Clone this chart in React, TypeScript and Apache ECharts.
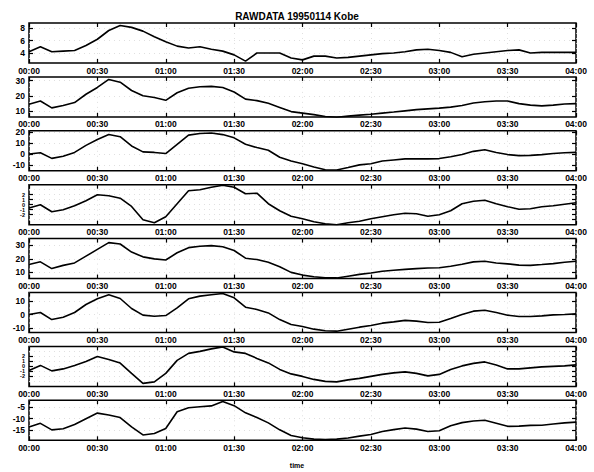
import React, { useEffect, useRef } from "react";
import * as echarts from "echarts";

const minutes = [0, 5, 10, 15, 20, 25, 30, 35, 40, 45, 50, 55, 60, 65, 70, 75, 80, 85, 90, 95, 100, 105, 110, 115, 120, 125, 130, 135, 140, 145, 150, 155, 160, 165, 170, 175, 180, 185, 190, 195, 200, 205, 210, 215, 220, 225, 230, 235, 240];

const ch1 = [4.2, 5.0, 4.2, 4.3, 4.4, 5.2, 6.2, 7.6, 8.4, 8.1, 7.5, 6.6, 5.8, 5.1, 4.8, 5.0, 4.6, 4.3, 3.7, 2.7, 4.0, 4.0, 4.0, 3.2, 2.9, 3.5, 3.5, 3.2, 3.3, 3.5, 3.7, 3.9, 4.0, 4.2, 4.5, 4.6, 4.4, 4.1, 3.4, 3.8, 4.0, 4.2, 4.4, 4.5, 4.0, 4.1, 4.1, 4.1, 4.1];
const ch2 = [14.4, 16.5, 12.0, 13.5, 15.5, 21, 25.5, 30.8, 29, 23.5, 20, 18.8, 17, 22, 25, 26, 26.2, 25.5, 22.5, 17.8, 16.8, 15, 12.3, 9.5, 8.5, 7.5, 6.3, 5.8, 6.5, 7.2, 7.8, 8.5, 9.2, 10, 10.8, 11.3, 11.8, 12.5, 13.5, 15.2, 16, 16.5, 16.5, 14.8, 13.8, 13.3, 13.8, 14.5, 14.8];
const ch3 = [0, 1.2, -4, -2, 1.5, 8, 13.5, 18, 16, 7.5, 2, 1.5, 0.5, 9, 17.5, 19, 19.5, 18, 15, 9, 6, 3.5, -3, -6.5, -9, -12, -14.5, -14.8, -12.5, -10, -9, -6.5, -5.5, -4.5, -4.5, -4.5, -4.2, -2.5, -0.5, 2.5, 4, 1.5, -0.5, -1.5, -1.2, -0.5, 0.5, 1.2, 1.5];
const ch4 = [-0.66, 0, -1.4, -1, -0.2, 0.8, 2, 1.8, 1.3, -0.34, -3, -3.6, -2.4, 0.2, 2.8, 3, 3.5, 3.9, 3.5, 2.2, 2.3, 0.2, -1.2, -2.3, -2.8, -3.4, -3.8, -4, -3.6, -3.3, -2.8, -2.4, -2, -1.7, -1.8, -2.3, -2, -1.2, 0.2, 0.7, 0.9, 0.2, -0.4, -0.9, -0.8, -0.4, -0.2, 0.1, 0.4];
const ch5 = [15.8, 17.8, 12.8, 15.2, 17, 22, 27, 32, 31, 25, 21.5, 20, 19.2, 24.5, 28.3, 29.3, 29.8, 29, 26.2, 20.5, 19.5, 17.5, 14.2, 10, 8, 6.8, 6, 5.9, 7.2, 8.5, 9.6, 10.8, 11.6, 12.2, 12.8, 13.2, 13.4, 14.5, 16, 17.8, 18.2, 17, 16.3, 15.4, 15.2, 15.8, 16.5, 17.5, 18.2];
const ch6 = [0, 1.5, -3.8, -2, 1.5, 7.5, 11.8, 14.8, 12, 4.5, -0.5, -1.3, -0.8, 5, 11.8, 13.8, 14.8, 15.8, 12.5, 5.5, 3.8, 1.2, -3.8, -7.5, -9, -11, -12.2, -12.5, -11, -9.5, -8.3, -6.5, -5.5, -4.4, -5, -6, -5.8, -3, 0, 2.5, 3.2, 1.5, -0.5, -1.5, -1.5, -1, -0.3, 0, 0.5];
const ch7 = [-0.8, 0.2, -0.9, -0.5, 0.2, 1, 2, 1.4, 0.66, -1.4, -3.4, -3.1, -1.4, 1.2, 2.6, 3, 3.5, 3.9, 2.9, 2.6, 1.6, 0.7, -0.6, -1.5, -2, -2.6, -3, -3.1, -2.7, -2.4, -2, -1.6, -1.3, -1.1, -1.4, -1.9, -1.6, -0.6, 0.1, 0.6, 0.9, 0.3, -0.5, -0.5, -0.3, -0.1, 0, 0.1, 0.3];
const ch8 = [-13.6, -12, -14.8, -14.3, -12.5, -10, -7.6, -8.4, -9.5, -13.5, -17, -16.4, -14.2, -7, -5.3, -4.9, -4.5, -2.6, -4.4, -7.5, -9.5, -11.8, -14.8, -17.2, -18.2, -18.8, -19, -18.8, -18.3, -17.5, -16.8, -15.5, -14.7, -14, -14.5, -15.5, -15.2, -13, -11.7, -11, -10.7, -12, -13.3, -13.2, -12.9, -12.8, -12.3, -11.8, -11.5];

const channels = [ch1, ch2, ch3, ch4, ch5, ch6, ch7, ch8];
const yMins = [2.4, 6, -15.5, -4, 5.4, -13.5, -4, -19.3];
const yMaxs = [8.8, 32.5, 21.5, 4, 35, 16.5, 4, -2.1];
const yTickValues = [
  [4, 6, 8],
  [10, 20, 30],
  [-10, 0, 10, 20],
  [-3, -2, -1, 0, 1, 2, 3],
  [10, 20, 30],
  [-10, 0, 10],
  [-3, -2, -1, 0, 1, 2, 3],
  [-15, -10, -5],
];
const title = "RAWDATA 19950114 Kobe";
const xName = "time";

const fmtTime = (v: number) =>
  String(Math.floor(v / 60)).padStart(2, "0") + ":" + String(v % 60).padStart(2, "0");

export default function App() {
  const ref = useRef<HTMLDivElement>(null);
  useEffect(() => {
    if (!ref.current) return;
    const chart = echarts.init(ref.current, null, { renderer: "svg" });
    const font = "Liberation Sans, Arial, sans-serif";
    const grids: any[] = [];
    const xAxes: any[] = [];
    const yAxes: any[] = [];
    const series: any[] = [];
    const gridLine = { show: true, lineStyle: { color: "#d8d8d8", type: [1, 4], width: 0.8 } };
    channels.forEach((ch, i) => {
      const top = 23 + i * 53.9;
      grids.push({
        left: 29,
        right: 18,
        top,
        height: 40,
        show: true,
        borderColor: "#000",
        borderWidth: 1.5,
        backgroundColor: "#fff",
      });
      const tickStyle = { show: true, inside: true, length: 4, lineStyle: { color: "#000", width: 1.2 } };
      xAxes.push({
        type: "value",
        gridIndex: i,
        min: 0,
        max: 240,
        interval: 30,
        axisLine: { show: false, onZero: false },
        axisTick: tickStyle,
        axisLabel: {
          show: true,
          formatter: (v: number) => fmtTime(v),
          color: "#000",
          fontSize: 8.5,
          fontWeight: "bold",
          fontFamily: font,
          margin: 3,
          showMinLabel: true,
          showMaxLabel: true,
        },
        splitLine: gridLine,
      });
      xAxes.push({
        type: "value",
        gridIndex: i,
        position: "top",
        min: 0,
        max: 240,
        interval: 30,
        axisLine: { show: false, onZero: false },
        axisTick: tickStyle,
        axisLabel: { show: false },
        splitLine: { show: false },
      });
      const small = i === 3 || i === 6;
      yAxes.push({
        type: "value",
        gridIndex: i,
        min: yMins[i],
        max: yMaxs[i],
        axisLine: { show: false, onZero: false },
        axisTick: { ...tickStyle, customValues: yTickValues[i] },
        axisLabel: {
          show: true,
          customValues: yTickValues[i],
          color: "#000",
          fontSize: small ? 5.5 : 8.5,
          fontWeight: "bold",
          fontFamily: font,
          margin: 4,
        },
        splitLine: gridLine,
      });
      yAxes.push({
        type: "value",
        gridIndex: i,
        position: "right",
        min: yMins[i],
        max: yMaxs[i],
        axisLine: { show: false, onZero: false },
        axisTick: { ...tickStyle, customValues: yTickValues[i] },
        axisLabel: { show: false, customValues: yTickValues[i] },
        splitLine: { show: false },
      });
      series.push({
        type: "line",
        xAxisIndex: i * 2,
        yAxisIndex: i * 2,
        data: minutes.map((m, k) => [m, ch[k]]),
        showSymbol: false,
        clip: true,
        lineStyle: { color: "#000", width: 1.6 },
      });
    });
    chart.setOption({
      animation: false,
      backgroundColor: "#fff",
      title: [
        {
          text: title,
          left: "center",
          top: 6,
          textStyle: { fontSize: 10, fontWeight: "bold", color: "#000", fontFamily: font },
        },
        {
          text: xName,
          left: "center",
          top: 457,
          textStyle: { fontSize: 7, fontWeight: "bold", color: "#000", fontFamily: font },
        },
      ],
      grid: grids,
      xAxis: xAxes,
      yAxis: yAxes,
      series,
    });
    return () => chart.dispose();
  }, []);
  return (
    <div
      ref={ref}
      style={{ position: "absolute", left: 0, top: 0, width: 594, height: 472 }}
    />
  );
}
